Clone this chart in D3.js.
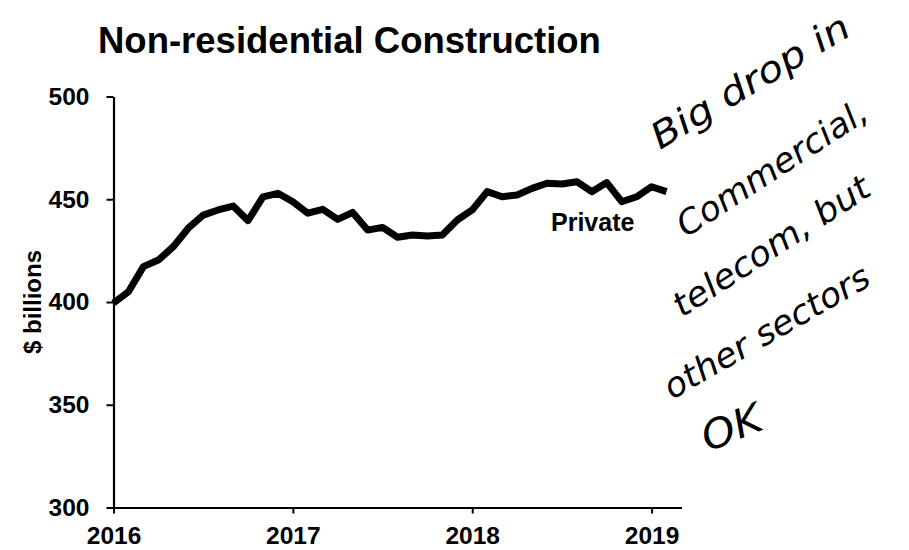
<!DOCTYPE html>
<html>
<head>
<meta charset="utf-8">
<script src="https://cdn.jsdelivr.net/npm/d3@7"></script>
<style>
html,body{margin:0;padding:0;background:#fff;}
svg{display:block;}
</style>
</head>
<body>
<svg id="chart" width="909" height="550"></svg>
<script>
// Monthly private non-residential construction, Jan 2016 – Feb 2019 ($ billions)
const startYear = 2016;
const privateValues = [
  399.5, 405.0, 417.2, 420.4, 426.9, 435.9, 442.3, 444.8, 446.7, 439.6, 451.2, 452.9,
  448.8, 443.2, 445.1, 440.2, 443.6, 435.0, 436.3, 431.5, 432.6, 432.1, 432.6, 439.9,
  444.8, 453.7, 451.2, 452.1, 455.3, 457.8, 457.4, 458.5, 453.7, 458.1, 448.8, 451.2,
  456.1, 453.7
];
const yTicks = [300, 350, 400, 450, 500];
const xTicks = [2016, 2017, 2018, 2019];
const titleText = "Non-residential Construction";
const yLabel = "$ billions";
const seriesLabel = "Private";
const noteLines = ["Big drop in", "Commercial,", "telecom, but", "other sectors", "OK"];

const data = privateValues.map((v, i) => ({t: startYear + i / 12, v}));

const svg = d3.select("#chart");
const font = "'Liberation Sans', Arial, Helvetica, sans-serif";

const x = d3.scaleLinear().domain([2016, 2019 + 2 / 12]).range([113.5, 681.5]);
const y = d3.scaleLinear().domain([300, 500]).range([507.5, 96.5]);

// Title
svg.append("text")
  .attr("x", 98).attr("y", 53)
  .attr("font-family", font).attr("font-weight", "bold").attr("font-size", 36.5)
  .attr("fill", "#000").text(titleText);

// Y axis
const yAxis = svg.append("g").attr("transform", `translate(${x(2016)},0)`)
  .call(d3.axisLeft(y).tickValues(yTicks).tickSize(7).tickPadding(17).tickSizeOuter(0).tickFormat(d3.format("d")));
yAxis.select(".domain").attr("stroke", "#000").attr("stroke-width", 2.2);
yAxis.selectAll(".tick line").attr("stroke", "#000").attr("stroke-width", 2);
yAxis.selectAll(".tick text").attr("font-family", font).attr("font-weight", "bold").attr("font-size", 24.5).attr("fill", "#000");

// X axis
const xAxis = svg.append("g").attr("transform", `translate(0,${y(300)})`)
  .call(d3.axisBottom(x).tickValues(xTicks).tickSize(6).tickPadding(13).tickSizeOuter(0).tickFormat(d3.format("d")));
xAxis.select(".domain").attr("stroke", "#000").attr("stroke-width", 2.2);
xAxis.selectAll(".tick line").attr("stroke", "#000").attr("stroke-width", 2);
xAxis.selectAll(".tick text").attr("font-family", font).attr("font-weight", "bold").attr("font-size", 24.5).attr("fill", "#000");

// Y axis label
svg.append("text")
  .attr("transform", "translate(41,302) rotate(-90)")
  .attr("text-anchor", "middle")
  .attr("font-family", font).attr("font-weight", "bold").attr("font-size", 24)
  .attr("fill", "#000").text(yLabel);

// Line
const line = d3.line().x(d => x(d.t)).y(d => y(d.v));
svg.append("path").datum(data)
  .attr("d", line)
  .attr("fill", "none").attr("stroke", "#000")
  .attr("stroke-width", 7).attr("stroke-linejoin", "round").attr("stroke-linecap", "butt");

// Series label
svg.append("text")
  .attr("x", 551).attr("y", 231)
  .attr("font-family", font).attr("font-weight", "bold").attr("font-size", 25)
  .attr("fill", "#000").text(seriesLabel);

// Handwritten note
const notePos = [
  {x: 660, y: 150, a: -31, len: 225, fs: 36},
  {x: 686, y: 238, a: -33, len: 220, fs: 34},
  {x: 682, y: 318, a: -33, len: 228, fs: 34},
  {x: 672, y: 400, a: -30, len: 232, fs: 34},
  {x: 708, y: 452, a: -22, len: 62, fs: 40}
];
noteLines.forEach((t, i) => {
  const p = notePos[i];
  svg.append("text")
    .attr("transform", `translate(${p.x},${p.y}) rotate(${p.a})`)
    .attr("font-family", "'DejaVu Sans', sans-serif").attr("font-style", "italic")
    .attr("font-weight", 200).attr("font-size", p.fs)
    .attr("textLength", p.len).attr("lengthAdjust", "spacingAndGlyphs")
    .attr("fill", "#000").text(t);
});
</script>
</body>
</html>
